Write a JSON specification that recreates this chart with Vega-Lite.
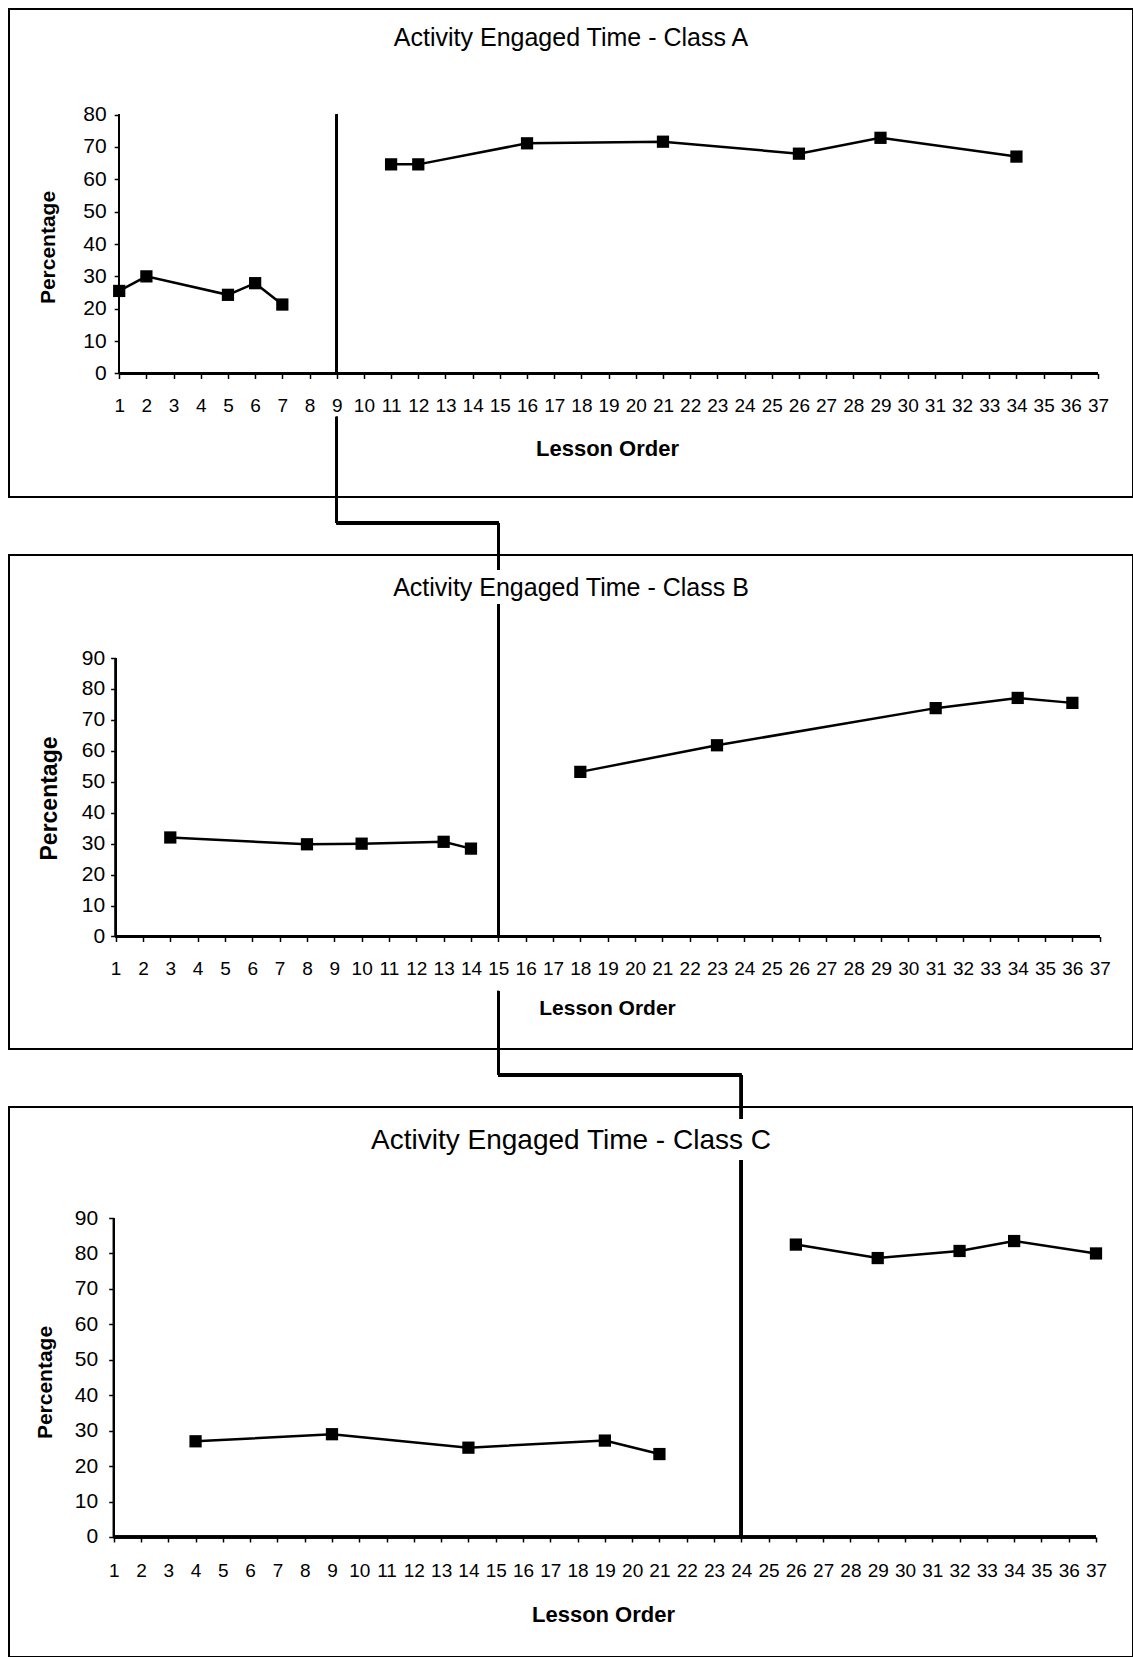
{
  "$schema": "https://vega.github.io/schema/vega-lite/v6.json",
  "padding": {"left": 8, "top": 8, "right": 0, "bottom": 0},
  "background": "white",
  "bounds": "flush",
  "spacing": 58,
  "config": {
    "font": "Liberation Sans",
    "view": {"stroke": "black", "strokeWidth": 2},
    "axis": {
      "domain": false, "grid": false,
      "labelFont": "Liberation Sans", "labelFontSize": 19, "labelColor": "black",
      "labelOverlap": false, "labelFlush": false, "labelBound": false,
      "tickColor": "black", "tickSize": 5, "tickWidth": 1.5,
      "titleFont": "Liberation Sans", "titleFontWeight": "bold", "titleColor": "black",
      "titleAlign": "center", "titleBaseline": "middle"
    },
    "title": {"font": "Liberation Sans", "fontWeight": "normal", "color": "black", "anchor": "middle"}
  },
  "datasets": {
    "aet": [
      {"class": "A", "phase": "Baseline", "lesson": 1, "pct": 25.5},
      {"class": "A", "phase": "Baseline", "lesson": 2, "pct": 30},
      {"class": "A", "phase": "Baseline", "lesson": 5, "pct": 24.3},
      {"class": "A", "phase": "Baseline", "lesson": 6, "pct": 27.9},
      {"class": "A", "phase": "Baseline", "lesson": 7, "pct": 21.3},
      {"class": "A", "phase": "Intervention", "lesson": 11, "pct": 64.6},
      {"class": "A", "phase": "Intervention", "lesson": 12, "pct": 64.6},
      {"class": "A", "phase": "Intervention", "lesson": 16, "pct": 71.1},
      {"class": "A", "phase": "Intervention", "lesson": 21, "pct": 71.6},
      {"class": "A", "phase": "Intervention", "lesson": 26, "pct": 67.9},
      {"class": "A", "phase": "Intervention", "lesson": 29, "pct": 72.8},
      {"class": "A", "phase": "Intervention", "lesson": 34, "pct": 67},
      {"class": "B", "phase": "Baseline", "lesson": 3, "pct": 32},
      {"class": "B", "phase": "Baseline", "lesson": 8, "pct": 29.8},
      {"class": "B", "phase": "Baseline", "lesson": 10, "pct": 30},
      {"class": "B", "phase": "Baseline", "lesson": 13, "pct": 30.6},
      {"class": "B", "phase": "Baseline", "lesson": 14, "pct": 28.4},
      {"class": "B", "phase": "Intervention", "lesson": 18, "pct": 53.2},
      {"class": "B", "phase": "Intervention", "lesson": 23, "pct": 61.8},
      {"class": "B", "phase": "Intervention", "lesson": 31, "pct": 73.8},
      {"class": "B", "phase": "Intervention", "lesson": 34, "pct": 77.1},
      {"class": "B", "phase": "Intervention", "lesson": 36, "pct": 75.5},
      {"class": "C", "phase": "Baseline", "lesson": 4, "pct": 27},
      {"class": "C", "phase": "Baseline", "lesson": 9, "pct": 29},
      {"class": "C", "phase": "Baseline", "lesson": 14, "pct": 25.2},
      {"class": "C", "phase": "Baseline", "lesson": 19, "pct": 27.2},
      {"class": "C", "phase": "Baseline", "lesson": 21, "pct": 23.4},
      {"class": "C", "phase": "Intervention", "lesson": 26, "pct": 82.5},
      {"class": "C", "phase": "Intervention", "lesson": 29, "pct": 78.7},
      {"class": "C", "phase": "Intervention", "lesson": 32, "pct": 80.7},
      {"class": "C", "phase": "Intervention", "lesson": 34, "pct": 83.5},
      {"class": "C", "phase": "Intervention", "lesson": 37, "pct": 80}
    ]
  },
  "vconcat": [
    {
      "width": 1124, "height": 488,
      "title": {"text": "Activity Engaged Time - Class A", "fontSize": 25, "offset": -42},
      "data": {"name": "aet"},
      "transform": [{"filter": "datum.class === 'A'"}],
      "resolve": {"axis": {"x": "independent", "y": "independent"}},
      "layer": [
        {
          "mark": {"type": "line", "color": "black", "strokeWidth": 2.5},
          "encoding": {
            "x": {"field": "lesson", "type": "quantitative",
              "scale": {"domain": [-3.053, 38.287], "nice": false, "zero": false},
              "axis": {"values": [1,2,3,4,5,6,7,8,9,10,11,12,13,14,15,16,17,18,19,20,21,22,23,24,25,26,27,28,29,30,31,32,33,34,35,36,37],
                "format": "d", "offset": -123.5, "labelPadding": 18, "labelOverlap": false,
                "title": "Lesson Order", "titleX": 598, "titleY": 74.5, "titleFontSize": 22}},
            "y": {"field": "pct", "type": "quantitative",
              "scale": {"domain": [-38.15, 112.59], "nice": false, "zero": false},
              "axis": {"values": [0,10,20,30,40,50,60,70,80], "format": "d", "offset": -110.2, "labelPadding": 8, "labelOverlap": false, "labelFontSize": 21,
                "title": "Percentage", "titleAngle": -90, "titleX": -71, "titleY": 238, "titleFontSize": 21}},
            "detail": {"field": "phase"}
          }
        },
        {
          "mark": {"type": "point", "shape": "square", "filled": true, "color": "black", "size": 150, "opacity": 1},
          "encoding": {
            "x": {"field": "lesson", "type": "quantitative", "axis": null},
            "y": {"field": "pct", "type": "quantitative", "axis": null}
          }
        },
        {"mark": {"type": "rule", "color": "black", "strokeWidth": 2},
         "encoding": {"x": {"datum": 1, "type": "quantitative", "axis": null}, "x2": {"datum": 37}, "y": {"datum": 0, "type": "quantitative", "axis": null}}},
        {"mark": {"type": "rule", "color": "black", "strokeWidth": 1.5},
         "encoding": {"x": {"datum": 1, "type": "quantitative", "axis": null}, "y": {"datum": 0, "type": "quantitative", "axis": null}, "y2": {"datum": 80}}},
        {"mark": {"type": "rule", "color": "black", "strokeWidth": 2},
         "encoding": {"x": {"datum": 9, "type": "quantitative", "axis": null}, "y": {"datum": 0, "type": "quantitative", "axis": null}, "y2": {"datum": 80}}},
        {"mark": {"type": "rule", "color": "black", "strokeWidth": 2},
         "encoding": {"x": {"datum": 9, "type": "quantitative", "axis": null}, "y": {"datum": -13.4, "type": "quantitative", "axis": null}, "y2": {"datum": -46.2}}},
        {"mark": {"type": "rule", "color": "black", "strokeWidth": 3},
         "encoding": {"x": {"datum": 9, "type": "quantitative", "axis": null}, "x2": {"datum": 14.95}, "y": {"datum": -46.2, "type": "quantitative", "axis": null}}},
        {"mark": {"type": "rule", "color": "black", "strokeWidth": 3},
         "encoding": {"x": {"datum": 14.95, "type": "quantitative", "axis": null}, "y": {"datum": -46.2, "type": "quantitative", "axis": null}, "y2": {"datum": -60.7}}}
      ]
    },
    {
      "width": 1124, "height": 494,
      "title": {"text": "Activity Engaged Time - Class B", "fontSize": 25, "offset": -46},
      "data": {"name": "aet"},
      "transform": [{"filter": "datum.class === 'B'"}],
      "resolve": {"axis": {"x": "independent", "y": "independent"}},
      "layer": [
        {
          "mark": {"type": "line", "color": "black", "strokeWidth": 2.5},
          "encoding": {
            "x": {"field": "lesson", "type": "quantitative",
              "scale": {"domain": [-2.9, 38.218], "nice": false, "zero": false},
              "axis": {"values": [1,2,3,4,5,6,7,8,9,10,11,12,13,14,15,16,17,18,19,20,21,22,23,24,25,26,27,28,29,30,31,32,33,34,35,36,37],
                "format": "d", "offset": -112.5, "labelPadding": 18, "labelOverlap": false,
                "title": "Lesson Order", "titleX": 598, "titleY": 71.5, "titleFontSize": 21}},
            "y": {"field": "pct", "type": "quantitative",
              "scale": {"domain": [-36.36, 123.29], "nice": false, "zero": false},
              "axis": {"values": [0,10,20,30,40,50,60,70,80,90], "format": "d", "offset": -106.6, "labelPadding": 6, "labelOverlap": false, "labelFontSize": 21,
                "title": "Percentage", "titleAngle": -90, "titleX": -66, "titleY": 243, "titleFontSize": 23}},
            "detail": {"field": "phase"}
          }
        },
        {
          "mark": {"type": "point", "shape": "square", "filled": true, "color": "black", "size": 150, "opacity": 1},
          "encoding": {
            "x": {"field": "lesson", "type": "quantitative", "axis": null},
            "y": {"field": "pct", "type": "quantitative", "axis": null}
          }
        },
        {"mark": {"type": "rule", "color": "black", "strokeWidth": 2},
         "encoding": {"x": {"datum": 1, "type": "quantitative", "axis": null}, "x2": {"datum": 37}, "y": {"datum": 0, "type": "quantitative", "axis": null}}},
        {"mark": {"type": "rule", "color": "black", "strokeWidth": 1.5},
         "encoding": {"x": {"datum": 1, "type": "quantitative", "axis": null}, "y": {"datum": 0, "type": "quantitative", "axis": null}, "y2": {"datum": 90}}},
        {"mark": {"type": "rule", "color": "black", "strokeWidth": 2.5},
         "encoding": {"x": {"datum": 15, "type": "quantitative", "axis": null}, "y": {"datum": 0, "type": "quantitative", "axis": null}, "y2": {"datum": 107.45}}},
        {"mark": {"type": "rule", "color": "black", "strokeWidth": 2.5},
         "encoding": {"x": {"datum": 15, "type": "quantitative", "axis": null}, "y": {"datum": -17.6, "type": "quantitative", "axis": null}, "y2": {"datum": -44.76}}},
        {"mark": {"type": "rule", "color": "black", "strokeWidth": 3},
         "encoding": {"x": {"datum": 15, "type": "quantitative", "axis": null}, "x2": {"datum": 23.89}, "y": {"datum": -44.76, "type": "quantitative", "axis": null}}},
        {"mark": {"type": "rule", "color": "black", "strokeWidth": 3},
         "encoding": {"x": {"datum": 23.89, "type": "quantitative", "axis": null}, "y": {"datum": -44.76, "type": "quantitative", "axis": null}, "y2": {"datum": -58.98}}}
      ]
    },
    {
      "width": 1124, "height": 550,
      "title": {"text": "Activity Engaged Time - Class C", "fontSize": 28, "offset": -48},
      "data": {"name": "aet"},
      "transform": [{"filter": "datum.class === 'C'"}],
      "resolve": {"axis": {"x": "independent", "y": "independent"}},
      "layer": [
        {
          "mark": {"type": "line", "color": "black", "strokeWidth": 2.5},
          "encoding": {
            "x": {"field": "lesson", "type": "quantitative",
              "scale": {"domain": [-2.837, 38.356], "nice": false, "zero": false},
              "axis": {"values": [1,2,3,4,5,6,7,8,9,10,11,12,13,14,15,16,17,18,19,20,21,22,23,24,25,26,27,28,29,30,31,32,33,34,35,36,37],
                "format": "d", "offset": -120, "labelPadding": 19, "labelOverlap": false,
                "title": "Lesson Order", "titleX": 594, "titleY": 77, "titleFontSize": 22}},
            "y": {"field": "pct", "type": "quantitative",
              "scale": {"domain": [-33.86, 121.32], "nice": false, "zero": false},
              "axis": {"values": [0,10,20,30,40,50,60,70,80,90], "format": "d", "offset": -104.7, "labelPadding": 11, "labelOverlap": false, "labelFontSize": 21,
                "title": "Percentage", "titleAngle": -90, "titleX": -68, "titleY": 275, "titleFontSize": 21}},
            "detail": {"field": "phase"}
          }
        },
        {
          "mark": {"type": "point", "shape": "square", "filled": true, "color": "black", "size": 150, "opacity": 1},
          "encoding": {
            "x": {"field": "lesson", "type": "quantitative", "axis": null},
            "y": {"field": "pct", "type": "quantitative", "axis": null}
          }
        },
        {"mark": {"type": "rule", "color": "black", "strokeWidth": 2.5},
         "encoding": {"x": {"datum": 1, "type": "quantitative", "axis": null}, "x2": {"datum": 37}, "y": {"datum": 0, "type": "quantitative", "axis": null}}},
        {"mark": {"type": "rule", "color": "black", "strokeWidth": 1.5},
         "encoding": {"x": {"datum": 1, "type": "quantitative", "axis": null}, "y": {"datum": 0, "type": "quantitative", "axis": null}, "y2": {"datum": 90}}},
        {"mark": {"type": "rule", "color": "black", "strokeWidth": 3},
         "encoding": {"x": {"datum": 24, "type": "quantitative", "axis": null}, "y": {"datum": 0, "type": "quantitative", "axis": null}, "y2": {"datum": 106.4}}}
      ]
    }
  ]
}
